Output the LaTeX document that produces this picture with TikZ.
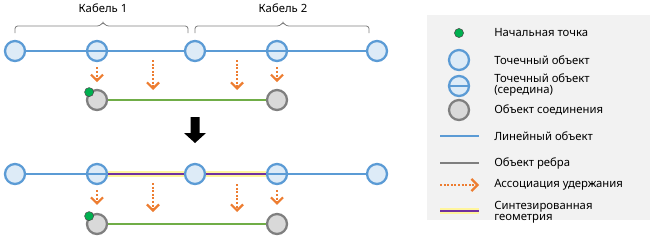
\documentclass[tikz,border=0pt]{standalone}
\usepackage{fontspec}
\setmainfont{Noto Sans}
\usetikzlibrary{arrows.meta,positioning}
\definecolor{ptblue}{HTML}{5B9BD5}
\definecolor{ptfill}{HTML}{DDEBF7}
\definecolor{jgray}{HTML}{7F7F7F}
\definecolor{jfill}{HTML}{D9D9D9}
\definecolor{egreen}{HTML}{70AD47}
\definecolor{sgreen}{HTML}{00B050}
\definecolor{corange}{HTML}{ED7D31}
\definecolor{synpurple}{HTML}{7030A0}
\definecolor{synglow}{HTML}{FFF59D}
\definecolor{legfill}{HTML}{F2F2F2}
\tikzset{
  point/.style    = {circle, draw=ptblue, fill=ptfill, line width=1.7pt,
                     minimum size=15pt, inner sep=0pt},
  junc/.style     = {circle, draw=jgray, fill=jfill, line width=1.7pt,
                     minimum size=15pt, inner sep=0pt},
  startdot/.style = {circle, draw=jgray!60!black, fill=sgreen, line width=0.4pt,
                     minimum size=6.8pt, inner sep=0pt},
  linefeat/.style = {ptblue, line width=1.5pt},
  edgefeat/.style = {egreen, line width=1.5pt},
  contain/.style  = {corange, line width=1.6pt, dash pattern=on 1.5pt off 1.2pt,
                     -{Straight Barb[length=4.5pt,width=9pt]}},
  glow/.style     = {synglow, line width=4pt},
  synth/.style    = {synpurple, line width=1.4pt},
  bracket/.style  = {jgray, line width=0.6pt, rounded corners=2pt},
  lbl/.style      = {font=\fontsize{8.5}{8.6}\selectfont, inner sep=0pt},
  legtxt/.style   = {lbl, anchor=west, align=left},
}
\begin{document}
\begin{tikzpicture}[x=0.75pt,y=-0.75pt]
  \useasboundingbox (0,0) rectangle (650,239);
  % cables
  \draw[bracket] (15,33) |- (100,26) -- (103,22) -- (106,26) -| (188,33);
  \draw[bracket] (195,33) |- (280,26) -- (283,22) -- (286,26) -| (369,33);
  \node[lbl] (cab1) at (103,8) {Кабель 1};
  \node[lbl] (cab2) at (283,8) {Кабель 2};
  % before
  \node[point] (a1) at (15,51) {};
  \node[point] (b1) at (97,51) {};
  \node[point] (c1) at (195,51) {};
  \node[point] (d1) at (277,51) {};
  \node[point] (e1) at (377,51) {};
  \draw[linefeat] (a1) -- (c1);
  \draw[linefeat] (c1) -- (e1);
  \node[junc] (j1) at (97,100) {};
  \node[junc] (j2) at (277,100) {};
  \draw[edgefeat] (j1) -- (j2);
  \node[startdot] (s1) at (j1.135) {};
  \coordinate (m1) at (153,60);  \coordinate (n1) at (153,90);
  \coordinate (m2) at (237,60);  \coordinate (n2) at (237,90);
  \draw[contain, shorten <=4pt, shorten >=5pt] (b1) -- (j1);
  \draw[contain, shorten <=4pt, shorten >=5pt] (d1) -- (j2);
  \draw[contain] (m1) -- (n1);
  \draw[contain] (m2) -- (n2);
  % result
  \fill (190.5,117) -- (199.5,117) -- (199.5,133) -- (206,133) -- (195,143)
        -- (184,133) -- (190.5,133) -- cycle;
  % after
  \node[point] (a2) at (15,174) {};
  \node[point] (b2) at (97,174) {};
  \node[point] (c2) at (195,174) {};
  \node[point] (d2) at (277,174) {};
  \node[point] (e2) at (377,174) {};
  \draw[linefeat] (a2) -- (c2);
  \draw[linefeat] (c2) -- (e2);
  \draw[glow] (b2.east) -- (c2.west);
  \draw[glow] (c2.east) -- (d2.west);
  \draw[synth] (b2.east) -- (c2.west);
  \draw[synth] (c2.east) -- (d2.west);
  \node[junc] (k1) at (97,224) {};
  \node[junc] (k2) at (277,224) {};
  \draw[edgefeat] (k1) -- (k2);
  \node[startdot] (s2) at (k1.135) {};
  \coordinate (m3) at (153,183);  \coordinate (n3) at (153,212);
  \coordinate (m4) at (237,184);  \coordinate (n4) at (237,212);
  \draw[contain, shorten <=4pt, shorten >=6pt] (b2) -- (k1);
  \draw[contain, shorten <=4pt, shorten >=6pt] (d2) -- (k2);
  \draw[contain] (m3) -- (n3);
  \draw[contain] (m4) -- (n4);
  % legend
  \fill[legfill] (427,15) rectangle (650,220);
  \node[startdot] (ls) at (459,33) {};
  \node[legtxt] at (494,33) {Начальная точка};
  \node[point] (lp) at (459,60) {};
  \node[legtxt] at (494,60) {Точечный объект};
  \node[point] (lm) at (459,86) {};
  \draw[linefeat] (lm.west) -- (lm.east);
  \node[legtxt] at (494,85) {Точечный объект\\(середина)};
  \node[junc] (lj) at (459,110) {};
  \node[legtxt] at (494,110) {Объект соединения};
  \coordinate (l1a) at (440,136);  \coordinate (l1b) at (479,136);
  \draw[linefeat] (l1a) -- (l1b);
  \node[legtxt] at (494,136) {Линейный объект};
  \coordinate (l2a) at (440,163);  \coordinate (l2b) at (479,163);
  \draw[jgray, line width=1.5pt] (l2a) -- (l2b);
  \node[legtxt] at (494,163) {Объект ребра};
  \coordinate (l3a) at (440,185);  \coordinate (l3b) at (479,185);
  \draw[contain] (l3a) -- (l3b);
  \node[legtxt] at (494,185) {Ассоциация удержания};
  \coordinate (l4a) at (440,211);  \coordinate (l4b) at (479,211);
  \draw[glow] (l4a) -- (l4b);
  \draw[synth] (l4a) -- (l4b);
  \node[legtxt] at (494,212) {Синтезированная\\геометрия};
\end{tikzpicture}
\end{document}
